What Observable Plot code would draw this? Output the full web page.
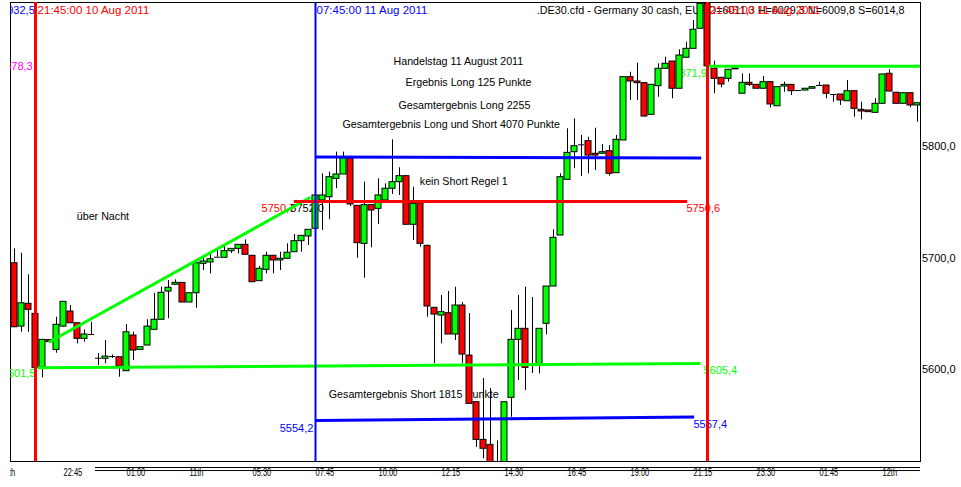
<!DOCTYPE html>
<html>
<head>
<meta charset="utf-8">
<script src="https://cdn.jsdelivr.net/npm/d3@7"></script>
<script src="https://cdn.jsdelivr.net/npm/@observablehq/plot@0.6"></script>
<style>
  html, body { margin: 0; padding: 0; background: #fff; }
  svg { display: block; }
</style>
</head>
<body>
<div id="chart"></div>
<script>
// ---- data (15-minute bars, bar 0 = 07:45 11 Aug 2011) ----
const firstBar = -43;
const open = [5695.3,5638.5,5658.9,5649.9,5602,5626.4,5617.6,5638.5,5652,5641.5,5627.5,5631.4,5610.1,5609.6,5611.6,5611,5598.5,5630.5,5617.6,5621.5,5635.6,5644.6,5669.9,5676,5677.7,5660.1,5668.4,5694.8,5696,5700.7,5700.2,5706.1,5708.2,5711.8,5702,5679.2,5689.4,5702,5697.8,5699.3,5705.2,5715.1,5719.3,
  5726.2,5751.6,5754.5,5771,5774.9,5789,5746.8,5712.7,5747.4,5744.1,5751.6,5762.1,5768,5773.4,5729.8,5749.1,5710.9,5655.3,5648.4,5650.5,5631.4,5657.4,5612.5,5570.7,5536.9,5532.4,5505,5510,5574.6,5626.6,5636.5,5603.6,5603.6,5641,5674.4,5720.2,5770.1,5794.9,5801.5,5804.8,5793.5,5793.5,5795.8,5776.1,5805.4,5862.2,5858.3,5856.8,5828.4,5854.1,5869.7,5876.2,5851.8,5879.6,5887.6,5905.6,5928,
  5869.7,5861.6,5860.7,5869.2,5847.3,5857.1,5855.3,5851.8,5857.7,5836.1,5853.8,5855.3,5850.2,5850.2,5851.8,5854.7,5854.7,5846.6,5846.6,5840.6,5849.6,5832.9,5832.3,5830.2,5838.3,5865.2,5848.2,5838.3,5847.8,5836.8];
const close = [5637.9,5659.4,5653.5,5601.5,5626.6,5624.6,5640.1,5660.7,5641.5,5627.5,5631.4,5631.4,5610.1,5611.6,5611.6,5602.7,5633.4,5617,5620,5638.5,5644.6,5668.8,5673.3,5677.7,5660.1,5668.4,5695.3,5696.9,5698.9,5700.7,5706.1,5708.2,5711.8,5702.9,5678.3,5690.3,5702,5697.8,5699.3,5704.7,5715.1,5719.9,5725.3,
  5756.1,5756.1,5772.5,5774.9,5789.5,5748,5713.3,5747.4,5742.6,5756.1,5762.1,5768,5773.4,5729.8,5748.6,5712.7,5656.5,5649.3,5651.4,5631.4,5657.4,5613.4,5569.2,5536.9,5528.9,5505,5510,5570.7,5626.6,5636.5,5601.5,5603.6,5636.5,5674.4,5718.1,5772.5,5794.3,5800.3,5801.5,5791.9,5791.9,5794.9,5775.5,5806,5862.2,5858.3,5856.8,5826.9,5855.3,5869.7,5874.2,5851.8,5881.6,5887.6,5904.7,5928,5871.9,
  5860.7,5855.6,5868.8,5870,5857.1,5855.3,5851.8,5857.7,5837.7,5853.2,5855.3,5849.6,5850.2,5851.8,5853.2,5854.7,5847.3,5846.6,5841.3,5849.6,5833.8,5831.4,5830.8,5838.3,5864.6,5849.3,5838.3,5847.8,5836.8,5838.8];
const high = [5708.2,5704.3,5685,5652,5627,5627,5646.9,5661,5657.4,5641.5,5635.6,5642.4,5614.3,5626,5613,5611,5640.3,5633.4,5620,5644.6,5668.4,5673.8,5679.8,5680.4,5677.7,5668.4,5695.3,5701.3,5703.8,5706.7,5711.2,5708.2,5711.8,5716.3,5702,5692.4,5705.2,5702,5705.2,5712.7,5721.1,5719.9,5725.3,
  5756.1,5775.5,5777,5794.9,5795,5790,5746.8,5768,5747.4,5771,5766.5,5806,5780.9,5773.4,5763.5,5749.1,5711.5,5655.3,5666.4,5670,5673.8,5660,5650.2,5570.7,5591.9,5583,5536,5570.7,5652.9,5666.4,5673.8,5664.6,5636.5,5674.4,5725.3,5775.5,5815.9,5824.8,5809.9,5808.3,5816.4,5801.8,5800.9,5809.9,5862.2,5866.6,5874.7,5856.8,5855.3,5874.2,5880.1,5876.2,5886.7,5893.5,5913,5935,5935,
  5876.5,5861.6,5868.8,5870,5865.2,5865.2,5855.3,5862.8,5857.7,5853.2,5857.7,5855.3,5850.2,5851.8,5853.2,5857.7,5854.7,5846.6,5846.6,5859.2,5849.6,5839.7,5832.3,5842.8,5864.6,5868.8,5848.2,5847.8,5847.8,5838.8];
const low = [5637.9,5633.4,5633.4,5600,5592.5,5624,5614.6,5638,5641.5,5623,5624.5,5631.4,5603.6,5605.1,5610,5593.1,5598.5,5608,5617.6,5621.5,5635.6,5644.6,5645.5,5676,5660.1,5660.1,5655,5688.8,5685.8,5700.7,5700.2,5704,5703.8,5702.9,5678.3,5679.2,5685.8,5685.8,5688.8,5699.3,5705.2,5705.2,5711.2,
  5726.2,5724.7,5734.3,5762.1,5774.9,5746.2,5699.8,5681.9,5709.1,5730,5751.6,5757,5756.1,5729.8,5715.7,5709.7,5646.9,5605.1,5623,5631.4,5626,5605.1,5569.2,5530,5520,5500,5495,5505,5557.2,5590.1,5581.2,5596.4,5596.1,5631.1,5674.4,5720,5770,5780,5773.1,5775.5,5778.5,5793.5,5773.4,5776.1,5805.4,5841.3,5841.3,5826.3,5828.4,5844.2,5869.7,5842.8,5851.8,5879.6,5887.6,5905.6,5871.9,
  5847.3,5852.6,5857.7,5869,5847.3,5853.8,5851.8,5851.8,5834.7,5836.1,5848.7,5845.7,5850.2,5850.2,5851.8,5854.7,5842.8,5839.7,5836.8,5840.6,5826.3,5823.9,5830.8,5830.2,5838.3,5849.3,5838.3,5838.3,5834.7,5821.8];

// x axis labels (bar index of label start)
const tickBars = [-45, -36, -27, -18, -9, 0, 9, 18, 27, 36, 45, 54, 63, 72, 81];
const tickLabels = ["10th", "22:45", "01:00", "11th", "05:30", "07:45", "10:00", "12:15", "14:30", "16:45", "19:00", "21:15", "23:30", "01:45", "12th"];
const priceTicks = [5600, 5700, 5800];

// drawn objects: trend / horizontal lines (bar index, price)
const lineX1 = [-39.7, -38.1, -3.1, 0, 0, 56.1];
const lineY1 = [5601.5, 5624.5, 5750.6, 5790.6, 5554.2, 5871.9];
const lineX2 = [55, -0.7, 53.1, 55.1, 54.1, 86.5];
const lineY2 = [5605.4, 5754.5, 5750.6, 5789.6, 5557.4, 5871.9];
const lineColor = ["#00ff00", "#00ff00", "#ff0000", "#0000ff", "#0000ff", "#00ff00"];

// vertical time lines
const vBars = [-40, 0, 56];
const vColor = ["#ff0000", "#0000ff", "#ff0000"];
const vWidth = [3, 2, 3];

// price labels of the objects
const labelText = ["5601,5", "5605,4", "5750,7", "5752,0", "5750,6", "5554,2", "5557,4", "5871,9", "5878,3", "5932,5"];
const labelBar = [-40, 55.43, -7.7, -3.6, 53, -0.3, 54, 51.1, -40.4, -40.1];
const labelPrice = [5596.4, 5599.1, 5744.4, 5744.4, 5744.4, 5547, 5550.6, 5865.5, 5871.8, 5922];
const labelAnchor = ["end", "start", "start", "start", "start", "end", "start", "start", "end", "end"];
const labelColor = ["#00ff00", "#00ff00", "#ff0000", "#000000", "#ff0000", "#0000ff", "#0000ff", "#00ff00", "#ff00ff", "#0000ff"];

// time stamps of vertical lines
const stampText = ["21:45:00 10 Aug 2011", "07:45:00 11 Aug 2011", "21:45:00 11 Aug 2011"];
const stampBar = [-39.7, 0.15, 56.3];
const stampColor = ["#ff0000", "#0000ff", "#ff0000"];
const stampPrice = 5922;

// notes
const noteText = ["Handelstag 11 August 2011", "Ergebnis Long 125 Punkte", "Gesamtergebnis Long 2255",
  "Gesamtergebnis Long und Short 4070 Punkte", "kein Short Regel 1", "über Nacht", "Gesamtergebnis Short 1815 Punkte"];
const noteBar = [11.14, 12.86, 11.86, 3.86, 14.9, -34.1, 1.9];
const notePrice = [5876.2, 5857.4, 5836.8, 5819.7, 5768.6, 5737.5, 5577.3];

const headerText = ".DE30.cfd - Germany 30 cash, EURO=6011,3 H=6029,3 N=6009,8 S=6014,8";
const headerBar = 84.15;

const xDomain = [-43.57, 86.43];
const yDomain = [5517.5, 5929.15];
const underRules = [5512.1, 5509.4];

// ---- build ----
const bars = open.map((o, k) => ({i: firstBar + k, o, c: close[k], h: high[k], l: low[k]}));
const dojis = bars.filter(d => d.o === d.c);
const segs = lineX1.map((x1, k) => ({x1, y1: lineY1[k], x2: lineX2[k], y2: lineY2[k], color: lineColor[k]}));
const vlines = vBars.map((b, k) => ({b, color: vColor[k], w: vWidth[k]}));
const labels = labelText.map((t, k) => ({t, x: labelBar[k], y: labelPrice[k], a: labelAnchor[k], color: labelColor[k]}));
const stamps = stampText.map((t, k) => ({t, x: stampBar[k], y: stampPrice, color: stampColor[k]}));
const notes = noteText.map((t, k) => ({t, x: noteBar[k], y: notePrice[k]}));
const half = 3 / 7;

const chart = Plot.plot({
  width: 961,
  height: 487,
  marginLeft: 10,
  marginRight: 41,
  marginTop: 2,
  marginBottom: 26,
  x: {type: "linear", domain: xDomain, axis: null},
  y: {type: "linear", domain: yDomain, axis: null},
  style: {fontFamily: "'Liberation Sans', Arial, sans-serif", fontSize: "11px", background: "#ffffff", color: "#000000", overflow: "visible"},
  marks: [
    Plot.frame({stroke: "#000000", strokeWidth: 1}),
    // notes & labels (behind candles)
    Plot.text(notes, {x: "x", y: "y", text: "t", textAnchor: "start", fill: "#000000", fontSize: 10.7}),
    Plot.text(labels.filter(d => d.a === "start"), {x: "x", y: "y", text: "t", textAnchor: "start", fill: "color", fontSize: 11, clip: true}),
    Plot.text(labels.filter(d => d.a === "end"), {x: "x", y: "y", text: "t", textAnchor: "end", fill: "color", fontSize: 11, clip: true}),
    Plot.text([headerText], {x: [headerBar], y: [stampPrice], text: Plot.identity, textAnchor: "end", fill: "#000000", fontSize: 10.8}),
    // candles
    Plot.ruleX(bars, {x: "i", y1: "l", y2: "h", stroke: "#000000", strokeWidth: 1, clip: true}),
    Plot.rect(bars, {x1: d => d.i - half, x2: d => d.i + half, y1: "o", y2: "c",
      fill: d => d.c >= d.o ? "#00ff00" : "#ff0000", stroke: "#000000", strokeWidth: 1, clip: true}),
    Plot.ruleY(dojis, {y: "o", x1: d => d.i - half, x2: d => d.i + half, stroke: "#000000", strokeWidth: 1, clip: true}),
    // objects
    Plot.link(segs, {x1: "x1", y1: "y1", x2: "x2", y2: "y2", stroke: "color", strokeWidth: 3, clip: true}),
    Plot.ruleX(vlines, {x: "b", stroke: "color", strokeWidth: "w", clip: true}),
    Plot.text(stamps, {x: "x", y: "y", text: "t", textAnchor: "start", fill: "color", fontSize: 11.5}),
    // axes
    Plot.axisY(priceTicks, {anchor: "right", tickSize: 0, tickPadding: 1.5, fontSize: 11,
      tickFormat: d => d.toFixed(1).replace(".", ",")}),
    Plot.ruleY(underRules, {x1: -31.43, x2: xDomain[1], stroke: "#000000", strokeWidth: 1}),
    Plot.text(tickLabels, {x: tickBars, text: Plot.identity, frameAnchor: "bottom", dy: 14, textAnchor: "start",
      fontSize: 11, fill: "#000000", ariaDescription: "time-ticks"})
  ]
});
document.getElementById("chart").appendChild(chart);

// condensed look of the time labels, clipped to the chart window on the left
const svgNode = chart.tagName.toLowerCase() === "svg" ? chart : chart.querySelector("svg");
const svg = d3.select(svgNode);
const tickSet = new Set(tickLabels);
let tickGroup = svgNode.querySelector('g[aria-description="time-ticks"]');
const tickTexts = tickGroup ? Array.from(tickGroup.querySelectorAll("text"))
  : Array.from(svgNode.querySelectorAll("text")).filter(t => tickSet.has(t.textContent));
tickTexts.forEach(t => {
  const len = t.getComputedTextLength();
  t.setAttribute("textLength", (len * 0.68).toFixed(2));
  t.setAttribute("lengthAdjust", "spacingAndGlyphs");
});
if (!tickGroup && tickTexts.length) tickGroup = tickTexts[0].parentNode;
if (tickGroup) {
  svg.append("defs").append("clipPath").attr("id", "tick-clip").attr("clipPathUnits", "userSpaceOnUse")
    .append("rect").attr("x", 9.5).attr("y", -100).attr("width", 960).attr("height", 700);
  d3.select(tickGroup).attr("clip-path", "url(#tick-clip)");
}
</script>
</body>
</html>
